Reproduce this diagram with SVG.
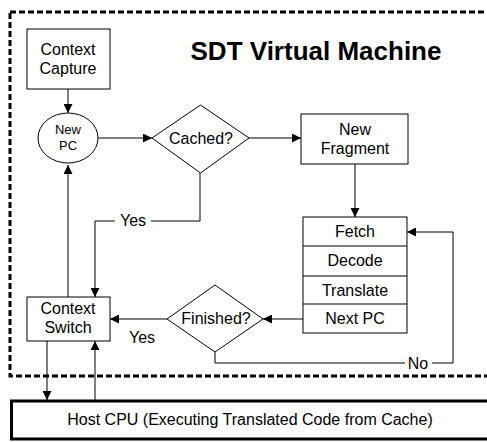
<svg xmlns="http://www.w3.org/2000/svg" width="487" height="442" viewBox="0 0 487 442">
<style>
text{font-family:"Liberation Sans",Arial,sans-serif;font-size:16px;fill:#000;text-anchor:middle}
.box{fill:#fff;stroke:#000;stroke-width:1}
.ln{fill:none;stroke:#000;stroke-width:1}
.arr{marker-end:url(#ah)}
</style>
<defs>
<marker id="ah" markerUnits="userSpaceOnUse" markerWidth="10" markerHeight="9" refX="9" refY="4.5" orient="auto">
<path d="M0,0 L9,4.5 L0,9 z" fill="#000"/>
</marker>
</defs>
<rect width="487" height="442" fill="#fff"/>
<rect id="vm-border" x="10" y="12" width="490" height="364" fill="none" stroke="#000" stroke-width="3" stroke-dasharray="6 3"/>
<text x="316" y="60" style="font-size:26px;font-weight:bold">SDT Virtual Machine</text>
<g id="connectors">
<line class="ln arr" x1="68" y1="89" x2="68" y2="113"/>
<line class="ln arr" x1="98" y1="138" x2="152" y2="138"/>
<line class="ln arr" x1="249" y1="138" x2="301" y2="138"/>
<line class="ln arr" x1="355" y1="164" x2="355" y2="217"/>
<line class="ln arr" x1="303" y1="319" x2="263" y2="319"/>
<line class="ln arr" x1="167" y1="319" x2="110" y2="319"/>
<line class="ln arr" x1="68" y1="297" x2="68" y2="165"/>
<polyline class="ln" points="200,173 200,221 151,221"/>
<polyline class="ln arr" points="115,221 95,221 95,297"/>
<polyline class="ln" points="215,352 215,363 405,363"/>
<polyline class="ln arr" points="432,363 453,363 453,232 407,232"/>
<line class="ln arr" x1="47" y1="341" x2="47" y2="400"/>
<line class="ln arr" x1="95" y1="400" x2="95" y2="341"/>
<text x="133" y="226">Yes</text>
<text x="142" y="343">Yes</text>
<text x="418" y="369">No</text>
</g>
<g id="context-capture">
<rect class="box" x="27" y="29" width="83" height="60"/>
<text x="68" y="55">Context</text>
<text x="68" y="74">Capture</text>
</g>
<g id="new-pc">
<ellipse class="box" cx="68" cy="138" rx="30" ry="25"/>
<text x="68" y="134" style="font-size:13px">New</text>
<text x="68" y="150" style="font-size:13px">PC</text>
</g>
<g id="cached">
<polygon class="box" points="152,138 200.5,105 249,138 200.5,173"/>
<text x="201" y="144">Cached?</text>
</g>
<g id="new-fragment">
<rect class="box" x="301" y="114" width="107" height="50"/>
<text x="355" y="135">New</text>
<text x="355" y="154">Fragment</text>
</g>
<g id="pipeline">
<rect class="box" x="303" y="217" width="104" height="116"/>
<line class="ln" x1="303" y1="246" x2="407" y2="246"/>
<line class="ln" x1="303" y1="276" x2="407" y2="276"/>
<line class="ln" x1="303" y1="304" x2="407" y2="304"/>
<text x="355" y="237">Fetch</text>
<text x="355" y="266">Decode</text>
<text x="355" y="296">Translate</text>
<text x="355" y="324">Next PC</text>
</g>
<g id="finished">
<polygon class="box" points="167,319 215,285 263,319 215,352"/>
<text x="216" y="324">Finished?</text>
</g>
<g id="context-switch">
<rect class="box" x="27" y="297" width="83" height="44"/>
<text x="68" y="314">Context</text>
<text x="68" y="333">Switch</text>
</g>
<g id="host-cpu">
<rect x="11.5" y="401" width="490" height="38" fill="#fff" stroke="#000" stroke-width="3"/>
<text x="250" y="425">Host CPU (Executing Translated Code from Cache)</text>
</g>
</svg>
